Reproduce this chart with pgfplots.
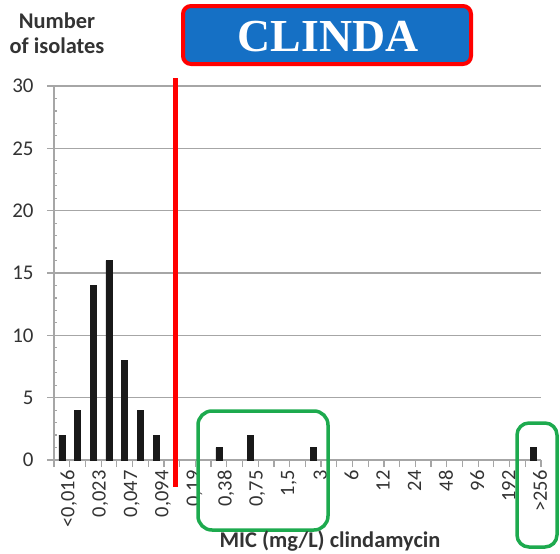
\documentclass[border=0pt]{standalone}
\usepackage{pgfplots}
\pgfplotsset{compat=1.18}
\usepackage{fontspec}
\setmainfont{Carlito}
\newfontfamily\titlefont{Liberation Serif}
\definecolor{boxblue}{HTML}{1570C5}
\definecolor{gridgray}{HTML}{A6A6A6}
\definecolor{mygreen}{HTML}{1DAA4E}
\definecolor{txt}{HTML}{333333}
\begin{document}
\begin{tikzpicture}
\path[use as bounding box] (0,0) rectangle (560bp,-554bp);
\begin{axis}[
  anchor=south west, at={(54bp,-460bp)},
  scale only axis, width=487bp, height=374bp,
  xmin=-0.5, xmax=30.5, ymin=0, ymax=30,
  axis lines*=left,
  axis line style={gridgray, line width=1.5bp},
  xtick={-0.5,0.5,...,30.5}, xticklabels={},
  extra x ticks={0,2,...,30},
  extra x tick labels={{<0,016},{0,023},{0,047},{0,094},{0,19},{0,38},{0,75},{1,5},{3},{6},{12},{24},{48},{96},{192},{>256}},
  extra x tick style={tick style={draw=none}, xmajorgrids=false},
  x tick label style={rotate=90, anchor=east, font=\fontsize{20.5}{22}\selectfont, text=txt, yshift=-7bp},
  ytick={0,5,...,30},
  minor y tick num=4,
  ymajorgrids, xmajorgrids=false,
  grid style={gridgray, line width=1.5bp},
  tick align=outside,
  major tick length=7bp, minor tick length=3bp,
  tick style={gridgray, line width=1.2bp},
  minor y tick style={xshift=3bp},
  y tick label style={font=\fontsize{21}{22}\selectfont, text=txt, xshift=-10bp},
  /pgf/number format/assume math mode=true,
  ybar, bar width=6bp,
]
\addplot[fill=black!90, draw=black!90] coordinates {
 (0,2) (1,4) (2,14) (3,16) (4,8) (5,4) (6,2) (10,1) (12,2) (16,1) (30,1)
};
\end{axis}
% red threshold line
\draw[red, line width=5bp] (175bp,-78bp) -- (175bp,-487bp);
% green boxes
\draw[mygreen, line width=3.5bp, rounded corners=14bp] (198bp,-411bp) rectangle (328bp,-530bp);
\draw[mygreen, line width=3.5bp, rounded corners=12bp] (517bp,-423bp) rectangle (557bp,-547bp);
% title box
\draw[red, fill=boxblue, line width=4bp, rounded corners=8bp] (183bp,-6bp) rectangle (471bp,-64bp);
\node[text=white, font=\titlefont\bfseries\fontsize{46}{48}\selectfont] at (328bp,-37bp) {CLINDA};
% labels
\node[text=txt, font=\bfseries\fontsize{22.5}{25}\selectfont, align=center] at (57bp,-33bp) {Number\\of isolates};
\node[text=txt, font=\bfseries\fontsize{22.5}{24}\selectfont] at (330bp,-541bp) {MIC (mg/L) clindamycin};
\end{tikzpicture}
\end{document}
